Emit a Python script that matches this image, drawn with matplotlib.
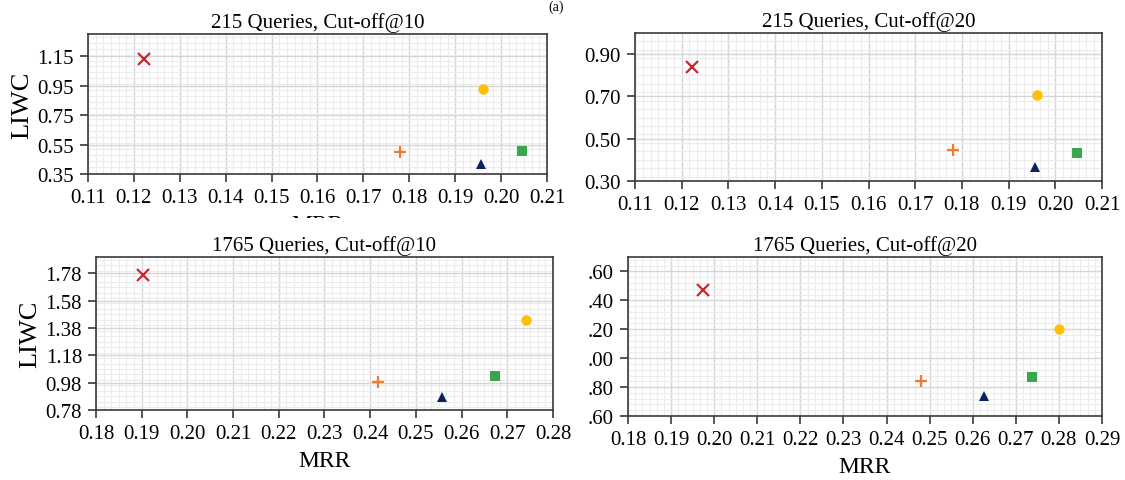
import matplotlib
matplotlib.use("Agg")
import matplotlib.pyplot as plt
from matplotlib.ticker import MultipleLocator, AutoMinorLocator, FixedLocator
from matplotlib.patches import Rectangle

plt.rcParams['font.family'] = ['Liberation Serif', 'DejaVu Serif']

# Methods in the order they appear in each panel
markers = ['x', '+', 'o', '^', 's']
colors = ['#c8282e', '#ed7d31', '#ffc000', '#0b2160', '#3aa64a']
sizes = [8, 9, 7.5, 6.5, 6.5]

# 215 queries, cut-off@10
mrr_215_10 = [0.1221, 0.1779, 0.1960, 0.1956, 0.2046]
liwc_215_10 = [1.128, 0.501, 0.926, 0.418, 0.504]

# 215 queries, cut-off@20
mrr_215_20 = [0.1222, 0.1780, 0.1961, 0.1957, 0.2047]
liwc_215_20 = [0.841, 0.446, 0.709, 0.367, 0.433]

# 1765 queries, cut-off@10
mrr_1765_10 = [0.1902, 0.2417, 0.2740, 0.2557, 0.2672]
liwc_1765_10 = [1.767, 0.987, 1.440, 0.875, 1.031]

# 1765 queries, cut-off@20
mrr_1765_20 = [0.1975, 0.2480, 0.2801, 0.2625, 0.2737]
liwc_1765_20 = [1.472, 0.840, 1.201, 0.735, 0.873]

titles = ['215 Queries, Cut-off@10', '215 Queries, Cut-off@20',
          '1765 Queries, Cut-off@10', '1765 Queries, Cut-off@20']
x_ranges = [(0.11, 0.21), (0.11, 0.21), (0.18, 0.28), (0.18, 0.29)]
y_ranges = [(0.35, 1.30), (0.30, 1.00), (0.78, 1.90), (0.60, 1.70)]
y_ticks = [[0.35, 0.55, 0.75, 0.95, 1.15],
           [0.30, 0.50, 0.70, 0.90],
           [0.78, 0.98, 1.18, 1.38, 1.58, 1.78],
           [0.60, 0.80, 1.00, 1.20, 1.40, 1.60]]

# axes boxes in pixels: left, top, right, bottom
W, H = 1125, 481
boxes = [(88, 35, 547, 175), (635, 34, 1102, 182),
         (96, 258, 553, 411), (628, 258, 1102, 417)]


def make_axes(fig, box):
    l, t, r, b = box
    return fig.add_axes([l / W, 1 - b / H, (r - l) / W, (b - t) / H])


def scatter_panel(ax, xs, ys, title, xr, yr, yt, ylabel=None, xlabel=None,
                  short_labels=False):
    """Draw one Excel style scatter panel."""
    for x, y, m, c, s in zip(xs, ys, markers, colors, sizes):
        mew = 1.6 if m in ('x', '+') else 0
        ax.plot(x, y, linestyle='none', marker=m, color=c, markersize=s,
                markeredgewidth=mew, zorder=3)

    ax.set_xlim(*xr)
    ax.set_ylim(*yr)
    ax.xaxis.set_major_locator(MultipleLocator(0.01))
    ax.xaxis.set_minor_locator(AutoMinorLocator(6))
    ax.yaxis.set_major_locator(FixedLocator(yt))
    ax.yaxis.set_minor_locator(MultipleLocator(0.04))
    ax.xaxis.set_major_formatter(plt.FuncFormatter(lambda v, p: f'{v:.2f}'))
    if short_labels:
        # leading digit is hidden behind the neighbouring panel
        ax.set_yticks(yt, [f'{v:.2f}'[1:] for v in yt])
    else:
        ax.set_yticks(yt, [f'{v:.2f}' for v in yt])

    ax.grid(which='major', color='#d6d6d6', linewidth=1.0, zorder=1)
    ax.grid(which='minor', color='#ececec', linewidth=0.8, zorder=0)
    ax.set_axisbelow(True)

    for sp in ax.spines.values():
        sp.set_color('#3a3a3a')
        sp.set_linewidth(1.2)
    ax.tick_params(which='major', direction='out', length=6, width=1.2,
                   color='#3a3a3a', labelsize=15, pad=4)
    ax.tick_params(which='minor', length=0)
    ax.tick_params(top=False, right=False)

    ax.set_title(title, fontsize=15, pad=5)
    if ylabel:
        ax.set_ylabel(ylabel, fontsize=19, labelpad=3)
    if xlabel:
        ax.set_xlabel(xlabel, fontsize=17, labelpad=5)


fig = plt.figure(figsize=(W / 100, H / 100), dpi=100)

ax1 = make_axes(fig, boxes[0])
ax2 = make_axes(fig, boxes[1])
ax3 = make_axes(fig, boxes[2])
ax4 = make_axes(fig, boxes[3])

scatter_panel(ax1, mrr_215_10, liwc_215_10, titles[0], x_ranges[0],
              y_ranges[0], y_ticks[0], ylabel='LIWC', xlabel='MRR')
scatter_panel(ax2, mrr_215_20, liwc_215_20, titles[1], x_ranges[1],
              y_ranges[1], y_ticks[1])
scatter_panel(ax3, mrr_1765_10, liwc_1765_10, titles[2], x_ranges[2],
              y_ranges[2], y_ticks[2], ylabel='LIWC', xlabel='MRR')
scatter_panel(ax4, mrr_1765_20, liwc_1765_20, titles[3], x_ranges[3],
              y_ranges[3], y_ticks[3], xlabel='MRR', short_labels=True)

# the lower panels were pasted over the upper ones in the source figure
ax1.set_zorder(0)
ax3.set_zorder(2)
ax4.set_zorder(2)
cover = Rectangle((0, 1 - 250 / H), 560 / W, 31 / H, transform=fig.transFigure,
                  facecolor='white', edgecolor='none', zorder=1)
fig.add_artist(cover)

# panel tag at the top edge
fig.text(556 / W, 1 - 1 / H, '(a)', fontsize=10, ha='center', va='top')

fig.savefig('out.png', dpi=100)
